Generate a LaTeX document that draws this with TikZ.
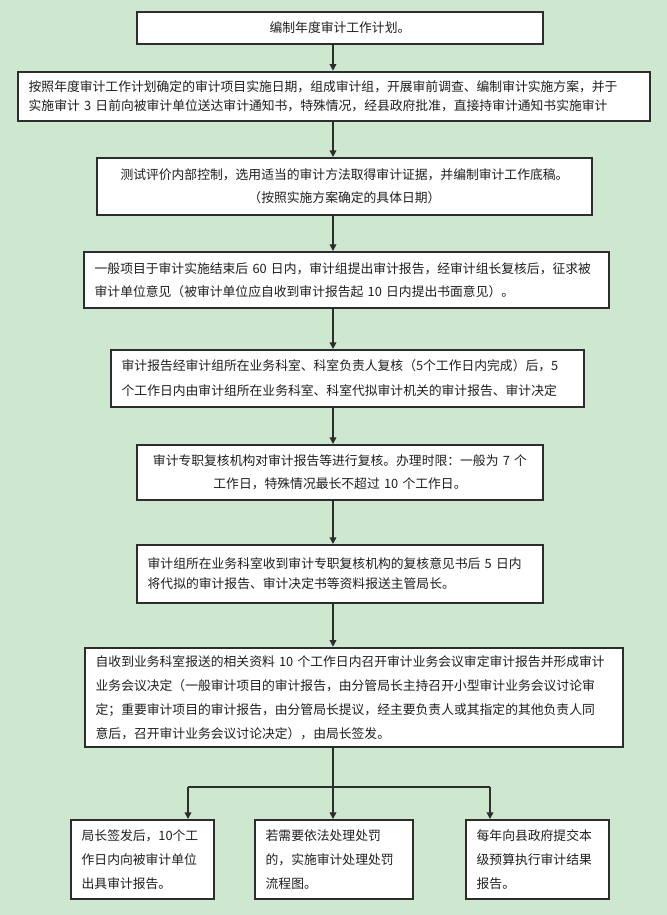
\documentclass[tikz,border=0pt]{standalone}
\usepackage{fontspec}
\setmainfont{Noto Sans CJK SC}
\usetikzlibrary{arrows.meta}
\definecolor{hintergrund}{RGB}{205,232,207}
\definecolor{rahmen}{RGB}{45,45,45}
\definecolor{schrift}{RGB}{30,30,30}

\begin{document}
\begin{tikzpicture}[x=0.75pt,y=0.75pt,yscale=-1,xscale=1,
	kasten/.style={draw=rahmen,fill=white,line width=1.5pt,inner xsep=8pt,inner ysep=0pt,text=schrift,font={\fontsize{9.6}{17.25}\selectfont}},
	pfeil/.style={draw=rahmen,line width=1.1pt,-{Triangle[length=5pt,width=5pt]}}]
			%Hintergrund
			\useasboundingbox (0,0) rectangle (667,915);
			\fill[hintergrund] (0,0) rectangle (667,915);
			
			% Jahresplan
			\node[kasten,align=center,text width=288.5pt,minimum height=24pt] (plan) at (340,28) {编制年度审计工作计划。};
			% Umsetzung
			\node[kasten,align=left,text width=458pt,minimum height=36.75pt,line width=1.9pt,font={\fontsize{9.6}{14.25}\selectfont}] (umsetzung) at (334,96.5) {按照年度审计工作计划确定的审计项目实施日期，组成审计组，开展审前调查、编制审计实施方案，并于\\实施审计 3 日前向被审计单位送达审计通知书，特殊情况，经县政府批准，直接持审计通知书实施审计};
			% Pruefung
			\node[kasten,align=center,text width=355.25pt,minimum height=42.75pt] (pruefung) at (344.5,186.5) {测试评价内部控制，选用适当的审计方法取得审计证据，并编制审计工作底稿。\\（按照实施方案确定的具体日期）};
			% Bericht
			\node[kasten,align=left,text width=377.75pt,minimum height=42pt] (bericht) at (346.5,280) {一般项目于审计实施结束后 60 日内，审计组提出审计报告，经审计组长复核后，征求被\\审计单位意见（被审计单位应自收到审计报告起 10 日内提出书面意见）。};
			% Abteilung
			\node[kasten,align=left,text width=338.75pt,minimum height=42.75pt,font={\fontsize{9.6}{18.75}\selectfont}] (abteilung) at (347.5,378.5) {审计报告经审计组所在业务科室、科室负责人复核（5个工作日内完成）后，5\\个工作日内由审计组所在业务科室、科室代拟审计机关的审计报告、审计决定};
			% Kontrolle
			\node[kasten,align=center,text width=288.5pt,minimum height=41.25pt] (kontrolle) at (340,472.5) {审计专职复核机构对审计报告等进行复核。办理时限：一般为 7 个\\工作日，特殊情况最长不超过 10 个工作日。};
			% Weiterleitung
			\node[kasten,align=left,text width=288.5pt,minimum height=43.5pt,font={\fontsize{9.6}{15}\selectfont}] (weiter) at (340,574) {审计组所在业务科室收到审计专职复核机构的复核意见书后 5 日内\\将代拟的审计报告、审计决定书等资料报送主管局长。};
			% Sitzung
			\node[kasten,align=left,text width=387.5pt,minimum height=74.25pt,line width=1.9pt,font={\fontsize{9.6}{18}\selectfont}] (sitzung) at (354,697.5) {自收到业务科室报送的相关资料 10 个工作日内召开审计业务会议审定审计报告并形成审计\\业务会议决定（一般审计项目的审计报告，由分管局长主持召开小型审计业务会议讨论审\\定；重要审计项目的审计报告，由分管局长提议，经主要负责人或其指定的其他负责人同\\意后，召开审计业务会议讨论决定），由局长签发。};
			% Ausgabe
			\node[kasten,align=left,text width=91.25pt,minimum height=59.25pt,font={\fontsize{9.6}{18}\selectfont}] (ausgabe) at (142.5,859.5) {局长签发后，10个工\\作日内向被审计单位\\出具审计报告。};
			% Strafe
			\node[kasten,align=left,text width=102.5pt,minimum height=59.25pt,font={\fontsize{9.6}{18}\selectfont}] (strafe) at (334,859.5) {若需要依法处理处罚\\的，实施审计处理处罚\\流程图。};
			% Haushalt
			\node[kasten,align=left,text width=91.25pt,minimum height=59.25pt,font={\fontsize{9.6}{18}\selectfont}] (haushalt) at (537.5,859.5) {每年向县政府提交本\\级预算执行审计结果\\报告。};
			
			%Linie
			\coordinate (achse) at (333,0);
			\coordinate (gabelL) at (188,787);
			\coordinate (gabelR) at (490,787);
			%Pfeile
			\draw[pfeil] (plan.south -| achse) -- (umsetzung.north -| achse);
			\draw[pfeil] (umsetzung.south -| achse) -- (pruefung.north -| achse);
			\draw[pfeil] (pruefung.south -| achse) -- (bericht.north -| achse);
			\draw[pfeil] (bericht.south -| achse) -- (abteilung.north -| achse);
			\draw[pfeil] (abteilung.south -| achse) -- (kontrolle.north -| achse);
			\draw[pfeil] (kontrolle.south -| achse) -- (weiter.north -| achse);
			\draw[pfeil] (weiter.south -| achse) -- (sitzung.north -| achse);
			\draw[pfeil] (sitzung.south -| achse) -- (strafe.north -| achse);
			%Verzweigung
			\draw[draw=rahmen,line width=1.1pt] (gabelL) -- (gabelR);
			\draw[pfeil] (gabelL) -- (ausgabe.north -| gabelL);
			\draw[pfeil] (gabelR) -- (haushalt.north -| gabelR);
			
		\end{tikzpicture}
\end{document}
